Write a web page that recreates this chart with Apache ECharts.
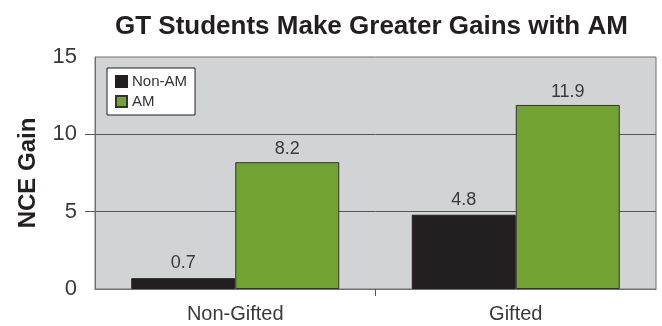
<!DOCTYPE html>
<html><head><meta charset="utf-8">
<script src="https://cdn.jsdelivr.net/npm/echarts@6/dist/echarts.min.js"></script>
<style>html,body{margin:0;padding:0;background:#fff}#c{width:662px;height:326px}</style>
</head><body><div id="c"></div>
<script>
var categories = ['Non-Gifted', 'Gifted'];
var nonAM = [0.7, 4.8];
var am = [8.2, 11.9];
var seriesNames = ['Non-AM', 'AM'];
var yTicks = [5, 10];
var xDividerTicks = [1];

var chart = echarts.init(document.getElementById('c'), null, {renderer: 'canvas'});
var font = 'Liberation Sans';
chart.setOption({
  animation: false,
  title: {
    text: 'GT Students Make Greater Gains with AM',
    left: 110, top: 9,
    textStyle: {fontFamily: font, fontWeight: 'bold', fontSize: 26, color: '#231f20'}
  },
  legend: {
    left: 107, top: 68, width: 115, height: 49,
    orient: 'vertical', itemGap: 5, padding: [6, 8],
    backgroundColor: '#fff', borderColor: '#231f20', borderWidth: 1,
    itemWidth: 11, itemHeight: 11, icon: 'rect',
    textStyle: {fontFamily: font, fontSize: 15, color: '#333'},
    data: seriesNames
  },
  grid: {
    left: 95, right: 6, top: 57, bottom: 37,
    show: true, backgroundColor: '#d1d3d4', borderColor: '#707070', borderWidth: 1
  },
  xAxis: [{
    type: 'category', data: categories,
    axisLine: {lineStyle: {color: '#707070'}},
    axisTick: {show: false},
    axisLabel: {fontFamily: font, fontSize: 20, color: '#3a3a3a', margin: 15}
  }, {
    type: 'value', min: 0, max: categories.length, position: 'bottom',
    axisLine: {show: false},
    axisTick: {show: true, length: 7, customValues: xDividerTicks, lineStyle: {color: '#555'}},
    axisLabel: {show: false},
    splitLine: {show: false}
  }],
  yAxis: {
    type: 'value', min: 0, max: 15, interval: 5,
    name: 'NCE Gain', nameLocation: 'middle', nameGap: 55, nameRotate: 90,
    nameTextStyle: {fontFamily: font, fontWeight: 'bold', fontSize: 24, color: '#231f20'},
    axisLine: {show: true, lineStyle: {color: '#707070'}},
    axisTick: {show: true, length: 10, customValues: yTicks, lineStyle: {color: '#555'}},
    axisLabel: {fontFamily: font, fontSize: 22, color: '#3a3a3a', margin: 18},
    splitLine: {show: true, lineStyle: {color: '#555', width: 1}}
  },
  series: [
    {
      name: seriesNames[0], type: 'bar', data: nonAM, barWidth: 104, barGap: '0%',
      itemStyle: {color: '#231f20', borderColor: '#231f20', borderWidth: 1},
      label: {show: true, position: 'top', distance: 6, fontFamily: font, fontSize: 18, color: '#3a3a3a'}
    },
    {
      name: seriesNames[1], type: 'bar', data: am, barWidth: 104,
      itemStyle: {color: '#71a232', borderColor: '#333', borderWidth: 1},
      label: {show: true, position: 'top', distance: 4, fontFamily: font, fontSize: 18, color: '#3a3a3a'}
    }
  ]
});
</script></body></html>
